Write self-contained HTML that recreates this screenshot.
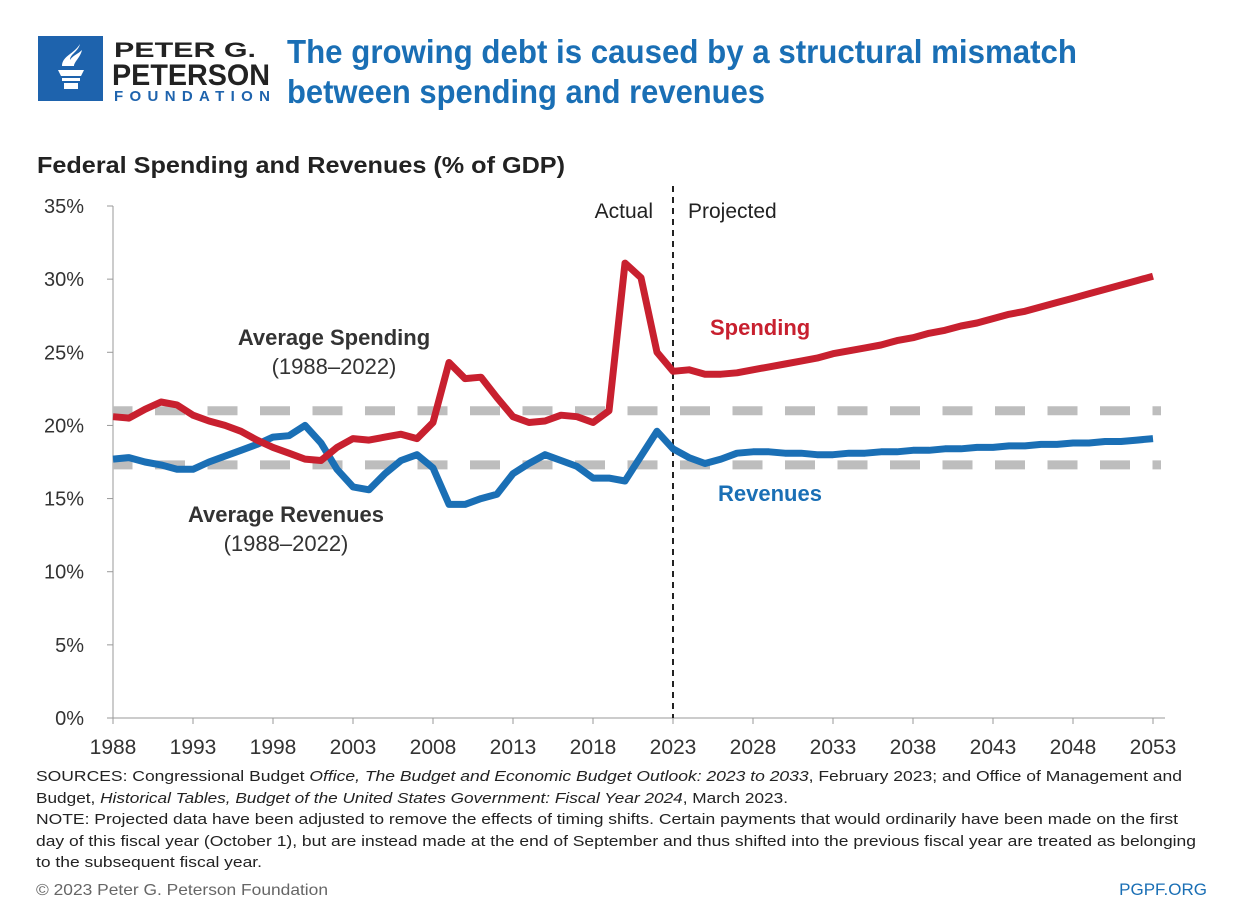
<!DOCTYPE html>
<html><head><meta charset="utf-8"><style>
html,body{margin:0;padding:0;background:#fff;}
svg{display:block;font-family:"Liberation Sans Narrow","Liberation Sans",sans-serif;}
</style></head><body>
<svg id="chart" width="1250" height="924" viewBox="0 0 1250 924">
  <g>
    <rect x="38" y="36" width="65" height="65" fill="#1e63ad"/>
    <path d="M58 70 h26 l-3 6 h-20 z M62 78 h18 v3 h-18 z M64 83 h14 v6 h-14 z" fill="#fff"/>
    <path d="M62 66 c0-10 12-12 18-22 c-2 8-10 10-10 16 c2-4 8-6 12-10 c-2 8-8 12-8 16 z" fill="#fff"/>
    <text x="114" y="57" font-size="21" font-weight="bold" fill="#222" textLength="142" lengthAdjust="spacingAndGlyphs">PETER G.</text>
    <text x="112" y="85" font-size="30" font-weight="bold" fill="#222" textLength="158" lengthAdjust="spacingAndGlyphs">PETERSON</text>
    <text x="114" y="101" font-size="15" font-weight="bold" fill="#1e63ad" textLength="156" lengthAdjust="spacing">FOUNDATION</text>
  </g>
  <text x="287" y="63" font-size="33" font-weight="bold" fill="#1a6fb5" textLength="790" lengthAdjust="spacingAndGlyphs">The growing debt is caused by a structural mismatch</text>
  <text x="287" y="103" font-size="33" font-weight="bold" fill="#1a6fb5" textLength="478" lengthAdjust="spacingAndGlyphs">between spending and revenues</text>
  <text x="37" y="173" font-size="23" font-weight="bold" fill="#222" textLength="528" lengthAdjust="spacingAndGlyphs">Federal Spending and Revenues (% of GDP)</text>
  <g id="axes"></g>
  <g id="marks"></g>
  <text x="653" y="218" font-size="21" fill="#222" text-anchor="end">Actual</text>
  <text x="688" y="218" font-size="21" fill="#222">Projected</text>
  <text x="334" y="345" font-size="22" font-weight="bold" fill="#333" text-anchor="middle">Average Spending</text>
  <text x="334" y="374" font-size="22" fill="#333" text-anchor="middle">(1988–2022)</text>
  <text x="286" y="522" font-size="22" font-weight="bold" fill="#333" text-anchor="middle">Average Revenues</text>
  <text x="286" y="551" font-size="22" fill="#333" text-anchor="middle">(1988–2022)</text>
  <text x="710" y="335" font-size="22" font-weight="bold" fill="#c8202f">Spending</text>
  <text x="718" y="501" font-size="22" font-weight="bold" fill="#1a6fb5">Revenues</text>
  <g font-size="15" fill="#222">
    <text x="36" y="781" textLength="1146" lengthAdjust="spacingAndGlyphs">SOURCES: Congressional Budget <tspan font-style="italic">Office, The Budget and Economic Budget Outlook: 2023 to 2033</tspan>, February 2023; and Office of Management and</text>
    <text x="36" y="803" textLength="752" lengthAdjust="spacingAndGlyphs">Budget, <tspan font-style="italic">Historical Tables, Budget of the United States Government: Fiscal Year 2024</tspan>, March 2023.</text>
    <text x="36" y="824" textLength="1142" lengthAdjust="spacingAndGlyphs">NOTE: Projected data have been adjusted to remove the effects of timing shifts. Certain payments that would ordinarily have been made on the first</text>
    <text x="36" y="846" textLength="1160" lengthAdjust="spacingAndGlyphs">day of this fiscal year (October 1), but are instead made at the end of September and thus shifted into the previous fiscal year are treated as belonging</text>
    <text x="36" y="867" textLength="226" lengthAdjust="spacingAndGlyphs">to the subsequent fiscal year.</text>
  </g>
  <text x="36" y="895" font-size="16" fill="#666" textLength="292" lengthAdjust="spacingAndGlyphs">© 2023 Peter G. Peterson Foundation</text>
  <text x="1207" y="895" font-size="17" fill="#1a6fb5" text-anchor="end">PGPF.ORG</text>
</svg>
<script>
const years = [];
for (let y = 1988; y <= 2053; y++) years.push(y);
const spending = [20.6,20.5,21.1,21.6,21.4,20.7,20.3,20.0,19.6,19.0,18.5,18.1,17.7,17.6,18.5,19.1,19.0,19.2,19.4,19.1,20.2,24.3,23.2,23.3,21.9,20.6,20.2,20.3,20.7,20.6,20.2,21.0,31.1,30.1,25.0,23.7,23.8,23.5,23.5,23.6,23.8,24.0,24.2,24.4,24.6,24.9,25.1,25.3,25.5,25.8,26.0,26.3,26.5,26.8,27.0,27.3,27.6,27.8,28.1,28.4,28.7,29.0,29.3,29.6,29.9,30.2];
const revenues = [17.7,17.8,17.5,17.3,17.0,17.0,17.5,17.9,18.3,18.7,19.2,19.3,20.0,18.8,17.0,15.8,15.6,16.7,17.6,18.0,17.1,14.6,14.6,15.0,15.3,16.7,17.4,18.0,17.6,17.2,16.4,16.4,16.2,17.9,19.6,18.4,17.8,17.4,17.7,18.1,18.2,18.2,18.1,18.1,18.0,18.0,18.1,18.1,18.2,18.2,18.3,18.3,18.4,18.4,18.5,18.5,18.6,18.6,18.7,18.7,18.8,18.8,18.9,18.9,19.0,19.1];
const averages = [21.0, 17.3];
const yTicks = [0,5,10,15,20,25,30,35];
const xTicks = [1988,1993,1998,2003,2008,2013,2018,2023,2028,2033,2038,2043,2048,2053];
const splitYear = 2023;

const NS = "http://www.w3.org/2000/svg";
const X0 = 113, X1 = 1153, Y0 = 718, Y1 = 206;
function xs(y){ return X0 + (y - 1988) / (2053 - 1988) * (X1 - X0); }
function ys(v){ return Y0 - v / 35 * (Y0 - Y1); }
function mk(tag, attrs, parent){ const e = document.createElementNS(NS, tag); for (const k in attrs) e.setAttribute(k, attrs[k]); parent.appendChild(e); return e; }
const axes = document.getElementById('axes');
const marks = document.getElementById('marks');

const yAxis = mk('line', {x1:X0, x2:X0, y1:Y1, y2:Y0, stroke:'#999', 'stroke-width':1}, axes);


const xAxis = mk('line', {x1:X0, x2:X1+12, y1:Y0, y2:Y0, stroke:'#999', 'stroke-width':1}, axes);


yTicks.forEach(v => {
  const t = mk('line', {x1:X0-6, x2:X0, y1:ys(v), y2:ys(v), stroke:'#999'}, axes);
  
  
  const l = mk('text', {x:84, y:ys(v)+7, 'font-size':20, fill:'#333', 'text-anchor':'end'}, axes);
  l.textContent = v + '%';
  
  
});
xTicks.forEach(v => {
  const t = mk('line', {x1:xs(v), x2:xs(v), y1:Y0, y2:Y0+6, stroke:'#999'}, axes);
  
  
  const l = mk('text', {x:xs(v), y:754, 'font-size':21, fill:'#333', 'text-anchor':'middle'}, axes);
  l.textContent = v;
  
  
});
averages.forEach((a, i) => {
  const l = mk('line', {x1:xs(1988), x2:xs(2053)+8, y1:ys(a), y2:ys(a), stroke:'#bdbdbd', 'stroke-width':9, 'stroke-dasharray':'30 22.5', 'stroke-dashoffset':'10.5'}, marks);
  
  
});
const div = mk('line', {x1:xs(splitYear), x2:xs(splitYear), y1:186, y2:Y0, stroke:'#222', 'stroke-width':2, 'stroke-dasharray':'6 5'}, marks);


function pathFor(vals){ return vals.map((v,i) => (i ? 'L' : 'M') + xs(years[i]).toFixed(1) + ' ' + ys(v).toFixed(1)).join(' '); }
const rev = mk('path', {d:pathFor(revenues), fill:'none', stroke:'#1a6fb5', 'stroke-width':7, 'stroke-linejoin':'round'}, marks);


const sp = mk('path', {d:pathFor(spending), fill:'none', stroke:'#c8202f', 'stroke-width':7, 'stroke-linejoin':'round'}, marks);


</script>
</body></html>
